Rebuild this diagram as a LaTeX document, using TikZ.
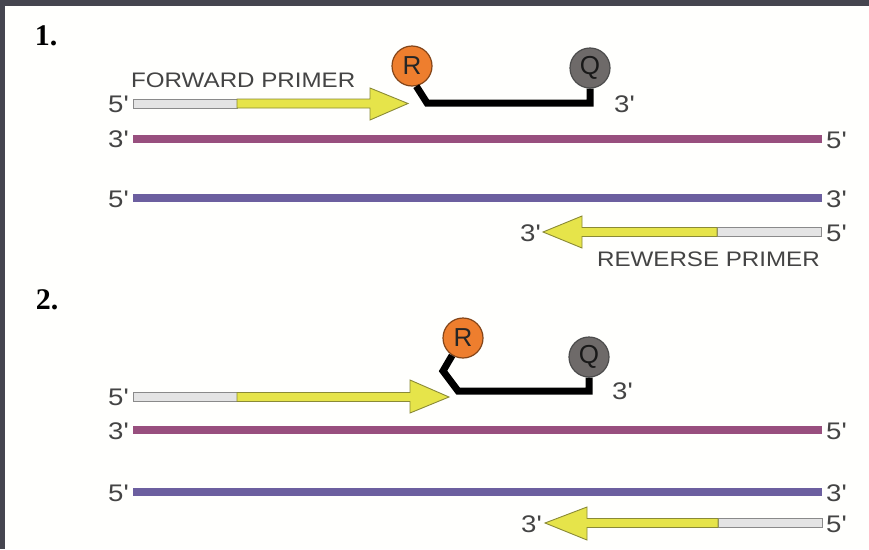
\documentclass[tikz,border=0pt]{standalone}
\usepackage{fontspec}
\usepackage{graphicx}
\setmainfont{Liberation Sans}
\newfontfamily\stepfont{Liberation Serif}

\definecolor{framegray}{HTML}{45454F}
\definecolor{paper}{HTML}{FFFFFD}
\definecolor{labelgray}{HTML}{444444}
\definecolor{strandA}{HTML}{984F7E}
\definecolor{strandB}{HTML}{6C5F9F}
\definecolor{primeryellow}{HTML}{E6E44A}
\definecolor{primeredge}{HTML}{8A8A36}
\definecolor{tailgray}{HTML}{E4E4E4}
\definecolor{tailedge}{HTML}{8A8A8A}
\definecolor{reporter}{HTML}{EE7E2E}
\definecolor{quencher}{HTML}{6E6A69}

\newcommand\fiveP{5\textquotesingle}
\newcommand\threeP{3\textquotesingle}
\newcommand\wide[1]{\scalebox{1.15}[1]{#1}}

\begin{document}
\begin{tikzpicture}[x=1pt,y=-1pt,
  endlbl/.style={text=labelgray,font=\fontsize{24}{28}\selectfont,inner sep=0pt},
  primerlbl/.style={text=labelgray,font=\fontsize{21}{25}\selectfont,inner sep=0pt},
  steplbl/.style={font=\stepfont\bfseries\fontsize{30}{34}\selectfont,inner sep=0pt},
  strandtop/.style={line width=8pt,strandA},
  strandbot/.style={line width=8pt,strandB},
  tailbox/.style={fill=tailgray,draw=tailedge,line width=0.8pt},
  headbox/.style={fill=primeryellow,draw=primeredge,line width=0.9pt,line join=miter},
  probe/.style={line width=7pt,black,line join=miter},
  dye/.style={circle,minimum size=40pt,inner sep=0pt,line width=1.2pt,
              font=\fontsize{26}{30}\selectfont},
  rdye/.style={dye,fill=reporter,draw=reporter!55!black,text=black!85},
  qdye/.style={dye,fill=quencher,draw=black!70,text=black!90}]

% page and dark frame
\fill[paper] (0,0) rectangle (869,549);
\useasboundingbox (0,0) rectangle (869,549);
\fill[framegray] (0,0) rectangle (869,6);
\fill[framegray] (0,0) rectangle (5,549);

% ---------------- step 1 ----------------
\node[steplbl] (n1) at (46,36) {1.};

% forward primer
\draw[tailbox] (133,99) rectangle (237,108);
\draw[headbox] (237,99) -- (370,99) -- (370,88) -- (408,103.5) -- (370,120)
  -- (370,108) -- (237,108) -- cycle;
\node[endlbl,anchor=east] (f1five) at (129,104) {\wide{\fiveP}};
\node[primerlbl,anchor=west] (f1name) at (131,80) {\wide{FORWARD PRIMER}};

% probe
\node[rdye] (R1) at (412,66) {R};
\node[qdye] (Q1) at (590,68) {Q};
\draw[probe] (R1.-78) -- (427,103) -- (Q1.south |- 0,103) -- (Q1.south);
\node[endlbl,anchor=west] (p1three) at (614,104) {\wide{\threeP}};

% template strands
\draw[strandtop] (133,139) coordinate (s1a) -- (822,139) coordinate (s1b);
\node[endlbl,anchor=east] (s1al) at (129,139) {\wide{\threeP}};
\node[endlbl,anchor=west] (s1bl) at (826,140) {\wide{\fiveP}};
\draw[strandbot] (133,198) coordinate (s1c) -- (822,198) coordinate (s1d);
\node[endlbl,anchor=east] (s1cl) at (129,199) {\wide{\fiveP}};
\node[endlbl,anchor=west] (s1dl) at (826,199) {\wide{\threeP}};

% reverse primer
\draw[tailbox] (717,227.5) rectangle (821,236.5);
\draw[headbox] (717,227.5) -- (582,227.5) -- (582,216) -- (543,232) -- (582,248)
  -- (582,236.5) -- (717,236.5) -- cycle;
\node[endlbl,anchor=east] (r1three) at (541,233) {\wide{\threeP}};
\node[endlbl,anchor=west] (r1five) at (826,233) {\wide{\fiveP}};
\node[primerlbl,anchor=east] (r1name) at (820,259) {\wide{REWERSE PRIMER}};

% ---------------- step 2 ----------------
\node[steplbl] (n2) at (47,300) {2.};

% extended forward primer
\draw[tailbox] (133,392.5) rectangle (237,401.5);
\draw[headbox] (237,392.5) -- (410,392.5) -- (410,380) -- (449,397) -- (410,413)
  -- (410,401.5) -- (237,401.5) -- cycle;
\node[endlbl,anchor=east] (f2five) at (129,397) {\wide{\fiveP}};

% probe
\node[rdye] (R2) at (463,338) {R};
\node[qdye] (Q2) at (589,357) {Q};
\draw[probe] (R2.-122) -- (443,371) -- (458,391) -- (Q2.south |- 0,391) -- (Q2.south);
\node[endlbl,anchor=west] (p2three) at (612,391) {\wide{\threeP}};

% template strands
\draw[strandtop] (133,430) coordinate (s2a) -- (822,430) coordinate (s2b);
\node[endlbl,anchor=east] (s2al) at (129,431) {\wide{\threeP}};
\node[endlbl,anchor=west] (s2bl) at (826,431) {\wide{\fiveP}};
\draw[strandbot] (133,492) coordinate (s2c) -- (822,492) coordinate (s2d);
\node[endlbl,anchor=east] (s2cl) at (129,493) {\wide{\fiveP}};
\node[endlbl,anchor=west] (s2dl) at (826,493) {\wide{\threeP}};

% reverse primer
\draw[tailbox] (718,518.5) rectangle (822,527.5);
\draw[headbox] (718,518.5) -- (587,518.5) -- (587,507) -- (545,523) -- (587,540)
  -- (587,527.5) -- (718,527.5) -- cycle;
\node[endlbl,anchor=east] (r2three) at (542,524) {\wide{\threeP}};
\node[endlbl,anchor=west] (r2five) at (826,524) {\wide{\fiveP}};
\end{tikzpicture}
\end{document}
